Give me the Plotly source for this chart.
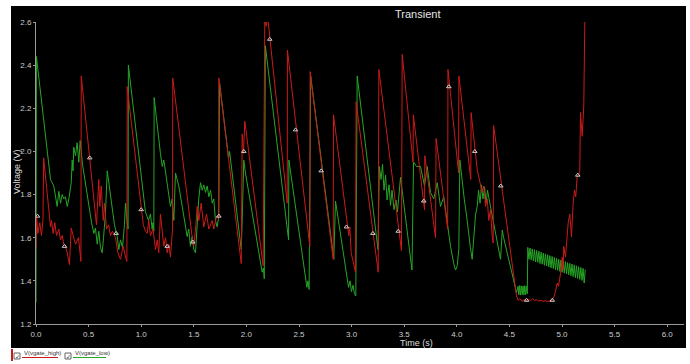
import plotly.graph_objects as go

# ---- data ----
time_high = [0.000, 0.005, 0.017, 0.036, 0.052, 0.066, 0.073, 0.122, 0.138, 0.147, 0.163, 0.179, 0.195,
             0.217, 0.233, 0.249, 0.264, 0.280, 0.297, 0.318, 0.335, 0.375, 0.404, 0.427, 0.430,
             0.575, 0.597, 0.606, 0.620, 0.639, 0.651, 0.670, 0.690, 0.708, 0.727, 0.756, 0.778,
             0.803, 0.829, 0.851, 0.864, 0.867,
             1.020, 1.040, 1.057, 1.072, 1.088, 1.112, 1.136, 1.152, 1.167, 1.183, 1.200, 1.215,
             1.231, 1.247, 1.262, 1.278, 1.298, 1.300,
             1.490, 1.500, 1.520, 1.532, 1.548, 1.570, 1.595, 1.621, 1.643, 1.675, 1.690, 1.716,
             1.735, 1.738,
             1.951, 1.960, 1.972, 1.985, 2.159, 2.175, 2.188, 2.203, 2.388, 2.390, 2.603, 2.606,
             2.825, 2.828, 2.973, 2.983, 2.996, 3.037, 3.043, 3.253, 3.259, 3.474, 3.481, 3.584,
             3.587, 3.693, 3.696, 3.798, 3.803, 3.913, 3.916, 4.017, 4.020, 4.133, 4.136, 4.194,
             4.241, 4.257, 4.273, 4.289, 4.304, 4.320, 4.336, 4.346, 4.350, 4.567, 4.584,
             4.600, 4.620, 4.640, 4.660, 4.680, 4.700, 4.720, 4.740, 4.760, 4.780, 4.800, 4.820,
             4.840, 4.860, 4.880, 4.907,
             4.922, 4.938, 4.954, 4.967, 4.986, 5.002, 5.010, 5.017, 5.033, 5.043, 5.059, 5.074,
             5.090, 5.106, 5.119, 5.131, 5.144, 5.157, 5.169, 5.176, 5.192, 5.207, 5.214, 5.217]
v_high = [1.55, 1.70, 1.62, 1.67, 1.61, 1.68, 1.97, 1.745, 1.65, 1.68, 1.62, 1.67, 1.61,
          1.64, 1.59, 1.61, 1.57, 1.56, 1.53, 1.475, 1.645, 1.57, 1.60, 1.49, 2.35,
          1.66, 1.87, 1.745, 1.84, 1.68, 1.76, 1.64, 1.66, 1.61, 1.63, 1.60, 1.53,
          1.50, 1.56, 1.51, 1.49, 2.30,
          1.66, 1.63, 1.62, 1.68, 1.61, 1.64, 1.545, 1.59, 1.53, 1.71, 1.62, 1.56,
          1.60, 1.53, 1.57, 1.51, 1.64, 2.34,
          1.58, 1.56, 1.66, 1.745, 1.68, 1.76, 1.65, 1.71, 1.64, 1.68, 1.64, 1.70,
          1.69, 2.34,
          1.48, 2.08, 1.99, 2.14, 1.47, 2.62, 2.58, 2.62, 1.76, 2.47, 1.56, 2.37,
          1.50, 2.17, 1.61, 1.65, 1.53, 1.44, 2.23, 1.44, 2.38, 1.54, 2.45, 1.95,
          2.17, 1.73, 1.98, 1.60, 2.06, 1.64, 2.38, 1.90, 2.35, 1.87, 2.18, 1.915,
          1.81, 1.84, 1.745, 1.78, 1.68, 1.73, 1.61, 1.575, 2.12, 1.33, 1.31,
          1.318, 1.305, 1.314, 1.306, 1.315, 1.308, 1.316, 1.309, 1.312, 1.306, 1.310, 1.305,
          1.308, 1.304, 1.307, 1.310,
          1.325, 1.35, 1.39, 1.375, 1.435, 1.51, 1.45, 1.56, 1.51, 1.59, 1.67, 1.71,
          1.605, 1.76, 1.82, 1.79, 1.885, 1.89, 1.91, 2.18, 2.07, 2.21, 2.50, 2.61]

time_low = [0.000, 0.004, 0.138, 0.169, 0.201, 0.217, 0.233, 0.249, 0.264, 0.280, 0.297, 0.312,
            0.335, 0.344, 0.352, 0.359, 0.375, 0.391, 0.407, 0.420, 0.442, 0.470, 0.499, 0.528,
            0.550, 0.565, 0.582, 0.597, 0.613, 0.629, 0.642, 0.660, 0.677, 0.689, 0.718, 0.746,
            0.772, 0.787, 0.803, 0.822, 0.841, 0.851, 0.860, 0.875, 0.878,
            1.040, 1.069, 1.088, 1.104, 1.112, 1.120, 1.123,
            1.183, 1.200, 1.215, 1.247, 1.278, 1.295, 1.310, 1.326, 1.342, 1.357, 1.390, 1.421,
            1.437, 1.452, 1.468, 1.484, 1.500, 1.516, 1.532, 1.547, 1.564, 1.580, 1.595, 1.611,
            1.627, 1.643, 1.659, 1.675, 1.690, 1.706, 1.722, 1.738, 1.745,
            1.816, 1.830, 1.840, 1.951, 1.960, 1.975, 1.991, 2.140, 2.150, 2.162, 2.170, 2.180,
            2.388, 2.401, 2.404, 2.565, 2.575, 2.585, 2.596, 2.611, 2.831, 2.847,
            2.960, 2.971, 2.985, 2.999, 3.013, 3.027, 3.040, 3.053,
            3.251, 3.264, 3.280, 3.294, 3.308, 3.323, 3.337, 3.356, 3.370, 3.384, 3.403, 3.422,
            3.436, 3.450, 3.465, 3.574, 3.589, 3.618, 3.655, 3.693, 3.719, 3.750, 3.781, 3.814,
            3.845, 3.876, 3.893, 3.909, 3.940, 3.971, 3.988, 4.004, 4.019, 4.029,
            4.053, 4.072, 4.091, 4.110, 4.129, 4.146, 4.162, 4.178, 4.194, 4.207, 4.221, 4.235,
            4.249, 4.264, 4.278, 4.292, 4.314, 4.416, 4.432, 4.445, 4.568,
            4.582, 4.590, 4.598, 4.606, 4.614, 4.622, 4.630, 4.638, 4.646, 4.654, 4.662, 4.670,
            4.675, 4.686, 4.696, 4.707, 4.717, 4.728, 4.738, 4.749, 4.759, 4.770, 4.780, 4.791,
            4.801, 4.812, 4.822, 4.833, 4.843, 4.854, 4.864, 4.875, 4.885, 4.896, 4.906, 4.917,
            4.927, 4.938, 4.948, 4.959, 4.969, 4.980, 4.990, 5.001, 5.011, 5.022, 5.032, 5.043,
            5.053, 5.064, 5.074, 5.085, 5.095, 5.106, 5.116, 5.127, 5.137, 5.148, 5.158, 5.169,
            5.179, 5.190, 5.200, 5.211, 5.221]
v_low = [1.30, 2.44, 1.87, 1.84, 1.745, 1.815, 1.76, 1.80, 1.78, 1.79, 1.745, 1.78,
         1.855, 1.96, 1.91, 2.02, 1.98, 2.04, 1.95, 2.05, 1.94, 1.845, 1.75, 1.67,
         1.62, 1.645, 1.57, 1.63, 1.555, 1.53, 1.60, 1.71, 1.91, 1.87, 1.75, 1.66,
         1.605, 1.545, 1.59, 1.555, 1.66, 1.76, 1.705, 1.64, 2.40,
         1.72, 1.68, 1.71, 1.64, 1.67, 1.63, 2.25,
         1.99, 1.93, 1.96, 1.84, 1.745, 1.78, 1.68, 1.90, 1.87, 1.84, 1.745, 1.65,
         1.605, 1.64, 1.56, 1.605, 1.545, 1.53, 1.68, 1.78, 1.855, 1.82, 1.845, 1.81,
         1.84, 1.79, 1.82, 1.76, 1.78, 1.68, 1.65, 1.70, 2.32,
         2.01, 1.97, 2.00, 1.545, 1.68, 1.96, 1.90, 1.47, 1.44, 1.46, 1.41, 2.49,
         1.65, 1.59, 1.96, 1.41, 1.37, 1.40, 1.36, 2.35, 1.50, 1.77,
         1.40, 1.37, 1.40, 1.35, 1.38, 1.34, 1.33, 2.35,
         1.545, 1.93, 1.87, 1.94, 1.82, 1.89, 1.775, 1.845, 1.75, 1.82, 1.73, 1.775,
         1.72, 1.80, 1.88, 1.45, 1.95, 1.93, 1.93, 1.84, 1.93, 1.81, 1.78, 1.855,
         1.745, 1.79, 1.73, 1.65, 1.56, 1.48, 1.45, 1.47, 1.545, 1.96,
         1.845, 1.775, 1.71, 1.615, 1.555, 1.50, 1.605, 1.705, 1.745, 1.82, 1.76, 1.845,
         1.78, 1.835, 1.76, 1.82, 1.76, 1.50, 1.635, 1.60, 1.345,
         1.375, 1.335, 1.378, 1.334, 1.377, 1.336, 1.376, 1.335, 1.378, 1.336, 1.375, 1.340,
         1.555, 1.500, 1.552, 1.497, 1.548, 1.492, 1.545, 1.488, 1.541, 1.486, 1.537, 1.480,
         1.533, 1.477, 1.529, 1.472, 1.525, 1.469, 1.521, 1.465, 1.517, 1.460, 1.513, 1.457,
         1.509, 1.452, 1.505, 1.449, 1.500, 1.444, 1.497, 1.440, 1.493, 1.436, 1.489, 1.432,
         1.485, 1.428, 1.481, 1.424, 1.478, 1.420, 1.474, 1.415, 1.470, 1.411, 1.466, 1.407,
         1.462, 1.402, 1.458, 1.390, 1.452]

marker_t = [0.014, 0.271, 0.511, 0.762, 1.000, 1.247, 1.490, 1.738, 1.975, 2.222, 2.467,
            2.711, 2.951, 3.202, 3.443, 3.686, 3.924, 4.171, 4.418, 4.663, 4.907, 5.150]
marker_v = [1.70, 1.56, 1.97, 1.62, 1.73, 1.56, 1.58, 1.70, 2.00, 2.52, 2.10,
            1.91, 1.65, 1.62, 1.63, 1.77, 2.30, 2.00, 1.84, 1.31, 1.31, 1.89]

x_ticks = [0.0, 0.5, 1.0, 1.5, 2.0, 2.5, 3.0, 3.5, 4.0, 4.5, 5.0, 5.5, 6.0]
x_tick_labels = ["0.0", "0.5", "1.0", "1.5", "2.0", "2.5", "3.0", "3.5", "4.0", "4.5", "5.0", "5.5", "6.0"]
y_ticks = [1.2, 1.4, 1.6, 1.8, 2.0, 2.2, 2.4, 2.6]
y_tick_labels = ["1.2", "1.4", "1.6", "1.8", "2.0", "2.2", "2.4", "2.6"]

RED = "#cc1a1a"
GREEN = "#26a626"
FONT = "Liberation Sans, Arial, sans-serif"

fig = go.Figure()
fig.add_trace(go.Scatter(x=time_low, y=v_low, mode="lines", name="V(vgate_low)",
                         line=dict(color=GREEN, width=1), showlegend=False))
fig.add_trace(go.Scatter(x=time_high, y=v_high, mode="lines", name="V(vgate_high)",
                         line=dict(color=RED, width=1), showlegend=False))
fig.add_trace(go.Scatter(x=marker_t, y=marker_v, mode="markers", showlegend=False,
                         marker=dict(symbol="triangle-up-open", size=4, color="#cccccc",
                                     line=dict(width=1, color="#cccccc"))))

W, H = 690, 364
L, R, T, B = 36, 6, 22, 40
pw, ph = W - L - R, H - T - B


def px(x):
    return (x - L) / pw


def py(y):
    return (H - B - y) / ph


shapes = [
    dict(type="rect", xref="paper", yref="paper", x0=px(11), x1=px(686), y0=py(348), y1=py(6),
         fillcolor="black", line=dict(width=0), layer="below"),
    # legend decorations
    dict(type="rect", xref="paper", yref="paper", x0=px(11), x1=px(13), y0=py(361), y1=py(349),
         fillcolor="#cc1a1a", line=dict(width=0)),
    dict(type="rect", xref="paper", yref="paper", x0=px(14), x1=px(20), y0=py(359), y1=py(353),
         fillcolor="white", line=dict(width=1, color="#666")),
    dict(type="rect", xref="paper", yref="paper", x0=px(65), x1=px(71), y0=py(359), y1=py(353),
         fillcolor="white", line=dict(width=1, color="#666")),
    dict(type="line", xref="paper", yref="paper", x0=px(22), x1=px(58), y0=py(357.5), y1=py(357.5),
         line=dict(width=1, color=RED)),
    dict(type="line", xref="paper", yref="paper", x0=px(73), x1=px(106), y0=py(357.5), y1=py(357.5),
         line=dict(width=1, color=GREEN)),
]

annotations = [
    dict(text="Transient", xref="paper", yref="paper", x=px(418), y=py(14), showarrow=False,
         font=dict(size=11, color="#e6e6e6", family=FONT), xanchor="center", yanchor="middle"),
    dict(text="Voltage (V)", xref="paper", yref="paper", x=px(17), y=py(172), showarrow=False,
         textangle=-90, font=dict(size=9, color="#dddddd", family=FONT), xanchor="center", yanchor="middle"),
    dict(text="Time (s)", xref="paper", yref="paper", x=px(416), y=py(342.5), showarrow=False,
         font=dict(size=9, color="#dddddd", family=FONT), xanchor="center", yanchor="middle"),
    dict(text="V(vgate_high)", xref="paper", yref="paper", x=px(22), y=py(353), showarrow=False,
         font=dict(size=6, color="#333333", family=FONT), xanchor="left", yanchor="middle"),
    dict(text="V(vgate_low)", xref="paper", yref="paper", x=px(73), y=py(353), showarrow=False,
         font=dict(size=6, color="#333333", family=FONT), xanchor="left", yanchor="middle"),
    dict(text="✓", xref="paper", yref="paper", x=px(17), y=py(356), showarrow=False,
         font=dict(size=6, color="#333333", family="DejaVu Sans"), xanchor="center", yanchor="middle"),
    dict(text="✓", xref="paper", yref="paper", x=px(68), y=py(356), showarrow=False,
         font=dict(size=6, color="#333333", family="DejaVu Sans"), xanchor="center", yanchor="middle"),
]

fig.update_layout(
    width=W, height=H,
    margin=dict(l=L, r=R, t=T, b=B, pad=0),
    paper_bgcolor="white", plot_bgcolor="black",
    shapes=shapes, annotations=annotations,
    font=dict(family=FONT, size=8, color="#cccccc"),
)
fig.update_xaxes(range=[0, pw / 105.2], tickvals=x_ticks, ticktext=x_tick_labels,
                 showgrid=False, zeroline=False, showline=True, linecolor="#9a9a9a", linewidth=1,
                 ticks="outside", ticklen=2, tickcolor="#9a9a9a",
                 tickfont=dict(size=8, color="#cccccc", family=FONT))
fig.update_yaxes(range=[1.2, 2.6], tickvals=y_ticks, ticktext=y_tick_labels,
                 showgrid=False, zeroline=False, showline=True, linecolor="#9a9a9a", linewidth=1,
                 ticks="outside", ticklen=2, tickcolor="#9a9a9a",
                 tickfont=dict(size=8, color="#cccccc", family=FONT))

fig.write_html("out.html", config={"displayModeBar": False},
               post_script="document.body.style.margin='0';document.body.style.overflow='hidden';")
